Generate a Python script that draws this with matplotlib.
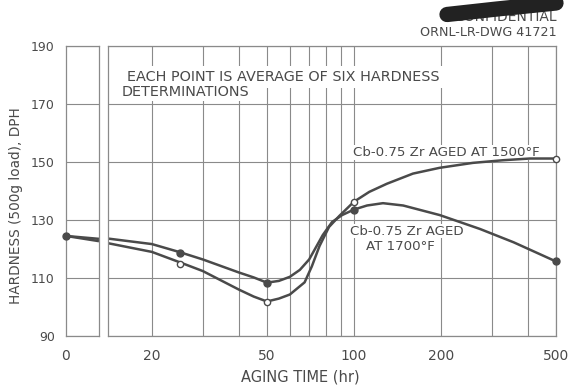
import numpy as np
import matplotlib
matplotlib.use("Agg")
import matplotlib.pyplot as plt
from matplotlib.lines import Line2D

# hardness curves read as (aging time in hr, DPH)
hours_1500 = [14.1, 20, 25, 30, 40, 45, 50, 55, 60, 67.5, 71.5, 76, 82, 89, 100,
              113, 130, 160, 198, 258, 327, 406, 500]
dph_1500 = [122.0, 119.0, 115.4, 112.4, 106.0, 103.6, 101.9, 102.9, 104.3, 108.5, 114.0,
            121.0, 127.6, 131.4, 136.3, 139.7, 142.5, 146.0, 148.0, 149.7, 150.6, 151.2, 151.2]
hours_1700 = [14.1, 20, 25, 30, 40, 45, 50, 55, 60, 65, 70, 78, 84, 91, 100,
              111, 126, 148, 198, 273, 357, 500]
dph_1700 = [123.6, 121.7, 118.9, 116.4, 111.9, 110.2, 108.4, 109.0, 110.4, 112.8, 116.4, 124.8,
            129.3, 131.7, 133.6, 135.0, 135.8, 135.0, 131.7, 126.9, 122.3, 115.7]

# measured points
pts_hours = [25, 50, 100, 500]
pts_1500 = [114.7, 101.6, 136.3, 151.2]
pts_1700 = [118.5, 108.2, 133.5, 115.7]

# as-received value at 0 hr and where the two curves leave the first panel
zero_dph = 124.5
edge_1500 = 122.7
edge_1700 = 123.5

y_ticks = [90, 110, 130, 150, 170, 190]
x_ticks = [20, 50, 100, 200, 500]
x_grid = [20, 30, 40, 50, 60, 70, 80, 90, 100, 200, 300, 400, 500]

ink = "#4a4a4a"
grid_c = "#8a8a8a"
lw = 1.8

plt.rcParams["font.family"] = ["DejaVu Sans"]

fig = plt.figure(figsize=(5.69, 3.88), dpi=100)
ax0 = fig.add_axes([66 / 569, 52 / 388, 33 / 569, 290 / 388])
ax = fig.add_axes([108 / 569, 52 / 388, 448 / 569, 290 / 388])

for a in (ax0, ax):
    a.set_ylim(90, 190)
    a.set_yticks(y_ticks)
    a.tick_params(length=0, colors=ink, labelsize=9)
    a.tick_params(axis="x", labelsize=10)
    a.grid(True, which="both", color=grid_c, lw=0.8)
    for s in a.spines.values():
        s.set_color(grid_c)
        s.set_linewidth(0.9)

# first panel: zero time only
ax0.set_xlim(0, 10)
ax0.set_xticks([0])
ax0.set_xticklabels(["0"])
ax0.tick_params(axis="x", pad=9)
ax0.tick_params(axis="y", pad=8)
ax0.grid(False, axis="x")
ax0.plot([0, 10], [zero_dph, edge_1500], color=ink, lw=lw, solid_capstyle="butt")
ax0.plot([0, 10], [zero_dph, edge_1700], color=ink, lw=lw, solid_capstyle="butt")
ax0.plot([0], [zero_dph], "o", color=ink, ms=5, clip_on=False, zorder=5)
ax0.set_ylabel("HARDNESS (500g load), DPH", color=ink, fontsize=9.8)
ax0.yaxis.set_label_coords(-1.3, 0.45)

# main panel: log time axis
ax.set_xscale("log")
ax.set_xlim(14.1, 500)
ax.set_xticks(x_grid, minor=True)
ax.set_xticks(x_ticks)
ax.set_xticklabels([str(t) for t in x_ticks])
ax.xaxis.set_minor_formatter(matplotlib.ticker.NullFormatter())
ax.tick_params(which="both", length=0, pad=9)
ax.set_yticklabels([])

ax.plot(hours_1500, dph_1500, color=ink, lw=lw, solid_joinstyle="round", zorder=2)
ax.plot(hours_1700, dph_1700, color=ink, lw=lw, solid_joinstyle="round", zorder=2)
ax.plot(pts_hours, pts_1700, "o", color=ink, ms=5, zorder=5, clip_on=False)
ax.plot(pts_hours, pts_1500, "o", mfc="white", mec=ink, mew=1.0, ms=4.5, zorder=6,
        clip_on=False)

# labels sit on white patches that break the grid but not the curves
box = dict(facecolor="white", edgecolor="none", pad=0.5)
ax.text(16.4, 179.3, "EACH POINT IS AVERAGE OF SIX HARDNESS", color=ink, fontsize=10.4,
        va="center", zorder=1.8, bbox=dict(facecolor="white", edgecolor="none", pad=3))
ax.text(15.75, 174.1, "DETERMINATIONS", color=ink, fontsize=10.4, va="center",
        zorder=1.8, bbox=dict(facecolor="white", edgecolor="none", pad=1))

ax.text(99.2, 153.3, "Cb-0.75 Zr AGED AT 1500\u00b0F", color=ink, fontsize=9.6,
        va="center", zorder=1.8, bbox=box)
ax.text(152.5, 126.2, "Cb-0.75 Zr AGED", color=ink, fontsize=9.6, va="center",
        ha="center", zorder=1.8, bbox=box)
ax.text(145.4, 121.0, "AT 1700\u00b0F", color=ink, fontsize=9.6, va="center",
        ha="center", zorder=1.8, bbox=box)

fig.text(300 / 569, 1 - 377 / 388, "AGING TIME (hr)", color=ink, fontsize=10.5,
         ha="center", va="center")

# drawing number and marked-out classification
fig.text(557 / 569, 1 - 33 / 388, "ORNL-LR-DWG 41721", color=ink, fontsize=9.2,
         ha="right", va="center")
fig.text(557 / 569, 1 - 17 / 388, "CONFIDENTIAL", color=ink, fontsize=10,
         ha="right", va="center")
fig.add_artist(Line2D([447 / 569, 497 / 569, 556 / 569],
                      [1 - 14.5 / 388, 1 - 9 / 388, 1 - 3 / 388],
                      color="#222222", lw=11, solid_capstyle="round", zorder=10))

fig.savefig("out.png", dpi=100, facecolor="white")
